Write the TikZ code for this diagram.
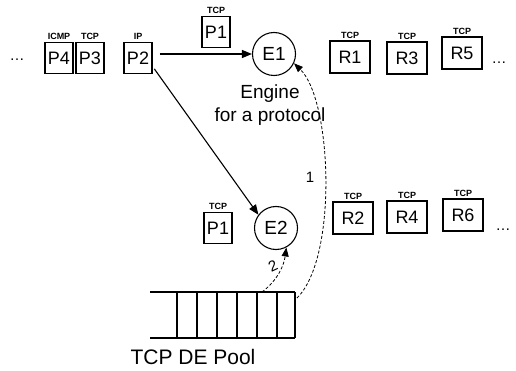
\documentclass[tikz,border=0pt]{standalone}
\usepackage{fontspec}
\setmainfont{Liberation Sans}
\usetikzlibrary{arrows.meta}
\colorlet{box edge}{black}
\tikzset{
  packet/.style={draw=box edge, line width=1.1pt, minimum width=28pt, minimum height=31pt, inner sep=0pt, font=\fontsize{18}{18}\selectfont},
  result/.style={packet, minimum width=40pt, minimum height=32pt},
  engine/.style={circle, draw=box edge, line width=1.1pt, minimum size=43pt, inner sep=0pt, font=\fontsize{19}{19}\selectfont},
  tag/.style={font=\bfseries\fontsize{9}{9}\selectfont, inner sep=1pt, label distance=1pt}
  }
\tikzstyle{flow} = [draw, line width=1.1pt, -{Triangle[length=10pt,width=8pt]}]
\tikzstyle{reuse} = [draw, line width=0.8pt, densely dashed, -{Triangle[length=9pt,width=7pt]}]
\tikzstyle{more} = [font=\fontsize{15}{15}\selectfont]
\tikzstyle{step no} = [font=\fontsize{15}{15}\selectfont]

\begin{document}
\begin{tikzpicture}[x=1pt, y=-1pt]
    \useasboundingbox (0,0) rectangle (516,371);

    % The incoming packets
    \foreach \pos/\name/\txt/\proto in {{(59,58)/p4/P4/ICMP}, {(90,58)/p3/P3/TCP}, {(138,58)/p2/P2/IP}, {(216,32)/p1/P1/TCP}, {(218,228)/q1/P1/TCP}} {
      \node[packet, label={[tag]above:\proto}] (\name) at \pos {\txt};
    }

    % the results
    \foreach \pos/\name in {{(350,57)/R1}, {(407,58)/R3}, {(462,53)/R5}, {(353,218)/R2}, {(407,217)/R4}, {(463,215)/R6}} {
      \node[result, label={[tag]above:TCP}] (\name) at \pos {\name};
    }

    \node[more] (more p) at (17,60) {\dots};
    \node[more] (more r1) at (499,63) {\dots};
    \node[more] (more r2) at (503,230) {\dots};

    % The engines
    \node[engine] (e1) at (274,54) {E1};
    \node[engine] (e2) at (276,228) {E2};
    \node[font=\fontsize{19}{23}\selectfont, align=center] (caption) at (270,105) {Engine\\for a protocol};

    % the pool
    \draw[line width=1.3pt] (150,292) -- (295,292) (150,338) -- (295,338);
    \foreach \x in {177,197,217,237,257,277,295} {
      \draw[line width=1.1pt] (\x,292) -- (\x,338);
    }
    \node[font=\fontsize{21}{21}\selectfont] (pool) at (193,357) {TCP DE Pool};
    \coordinate (pool top) at (262,292);
    \coordinate (pool end) at (297,298);

    % The connections
    \draw[flow, shorten <=7pt] (p2.east |- e1.west) -- (e1.west);
    \draw[flow, shorten <=3pt] (p2.-30) -- (e2.143);
    \draw[reuse] (pool end) .. controls (338,258) and (332,100) .. (e1.-25);
    \draw[reuse] (pool top) .. controls (278,280) and (284,265) .. (e2.-62);
    \node[step no] (one) at (310,177) {1};
    \node[step no, rotate=25] (two) at (273,266) {2};
\end{tikzpicture}
\end{document}
